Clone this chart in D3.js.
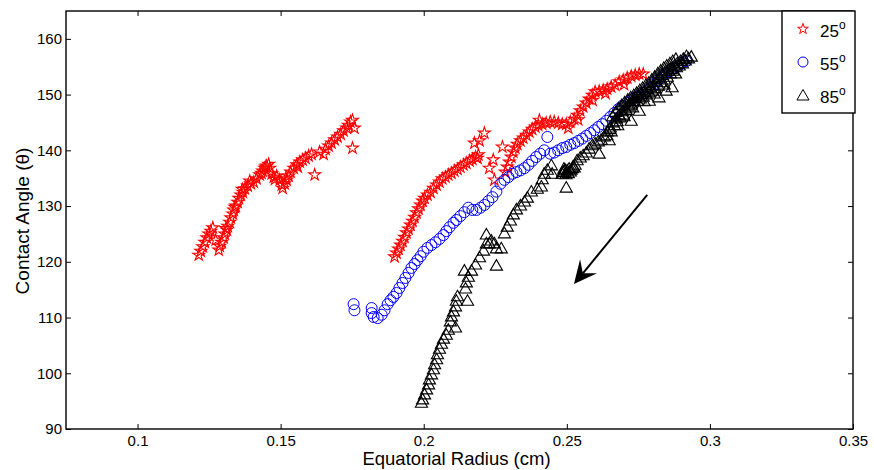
<!DOCTYPE html>
<html>
<head>
<meta charset="utf-8">
<script src="https://cdn.jsdelivr.net/npm/d3@7"></script>
<style>
  body { margin: 0; background: #fff; }
  svg { font-family: "Liberation Sans", Arial, Helvetica, sans-serif; }
  .axis text { font-size: 15px; fill: #000; }
  .axis line { stroke: #000; stroke-width: 1; }
</style>
</head>
<body>
<div id="chart"></div>
<script>
// contact angle vs equatorial radius
var deg25 = [
  [0.1214,121.2],[0.1221,121.9],[0.1228,122.7],[0.1235,123.5],[0.1242,124.3],[0.1249,125.0],[0.1256,125.5],[0.1263,126.1],[0.1273,123.9],
  [0.1284,122.1],[0.1287,122.8],[0.1294,123.5],[0.1301,124.3],[0.1305,125.0],[0.1312,125.7],[0.1315,126.4],[0.1322,127.1],[0.1326,127.9],
  [0.1333,128.6],[0.1336,129.3],[0.1343,130.0],[0.1350,130.7],[0.1354,131.4],[0.1361,132.0],[0.1368,132.5],[0.1375,133.1],[0.1385,133.6],
  [0.1396,134.0],[0.1406,134.3],[0.1416,134.9],[0.1427,135.6],[0.1437,136.3],[0.1444,136.8],[0.1451,137.2],[0.1458,137.5],[0.1462,136.8],
  [0.1469,135.8],[0.1476,135.2],[0.1486,135.4],[0.1497,134.7],[0.1504,133.8],[0.1507,133.2],[0.1514,134.0],[0.1521,134.7],[0.1528,135.4],
  [0.1535,136.1],[0.1546,136.8],[0.1556,137.4],[0.1567,137.9],[0.1577,138.3],[0.1587,138.6],[0.1598,139.0],[0.1608,139.3],[0.1619,135.6],
  [0.1636,139.7],[0.1650,139.3],[0.1657,140.2],[0.1668,140.8],[0.1678,141.3],[0.1689,141.9],[0.1699,142.4],[0.1710,142.9],[0.1720,143.5],
  [0.1731,144.0],[0.1737,144.5],[0.1744,145.1],[0.1751,145.4],[0.1758,144.0],[0.1751,140.4],
  [0.1309,126.0],[0.1340,129.8],[0.1366,133.0],[0.1392,134.5],[0.1433,135.9],[0.1448,137.0],[0.1480,134.8],[0.1518,135.0],[0.1560,137.0],
  [0.1898,120.9],[0.1905,121.6],[0.1912,122.3],[0.1919,123.0],[0.1926,123.7],[0.1933,124.4],[0.1940,125.2],[0.1947,125.9],[0.1954,126.6],
  [0.1961,127.3],[0.1968,128.0],[0.1975,128.8],[0.1982,129.5],[0.1989,130.2],[0.1996,130.9],[0.2003,131.4],[0.2013,132.0],[0.2024,132.5],
  [0.2034,133.2],[0.2045,133.8],[0.2055,134.3],[0.2065,134.9],[0.2076,135.2],[0.2086,135.6],[0.2097,135.9],[0.2107,136.3],[0.2118,136.6],
  [0.2128,137.0],[0.2139,137.4],[0.2149,137.7],[0.2160,138.1],[0.2170,138.4],[0.2181,138.8],[0.2191,139.2],
  [0.2177,141.3],[0.2195,141.7],[0.2212,143.1],[0.2188,138.6],[0.2229,136.8],[0.2243,138.3],[0.2247,134.7],[0.2275,140.6],
  [0.2285,136.1],[0.2292,137.0],[0.2299,137.9],[0.2306,138.8],[0.2313,139.7],[0.2320,140.4],[0.2327,141.1],[0.2338,141.7],[0.2348,142.2],
  [0.2359,142.7],[0.2369,143.3],[0.2379,143.8],[0.2390,144.2],[0.2400,144.5],[0.2404,145.4],[0.2414,144.7],[0.2428,144.9],[0.2442,145.1],
  [0.2456,145.1],[0.2470,144.9],[0.2484,144.7],[0.2498,144.7],[0.2512,145.1],[0.2526,145.6],[0.2537,146.3],[0.2547,147.1],[0.2557,147.8],
  [0.2568,148.5],[0.2578,149.2],[0.2589,149.9],[0.2599,150.5],[0.2613,150.6],[0.2627,150.8],[0.2641,151.0],[0.2655,151.4],[0.2669,151.7],
  [0.2683,152.3],[0.2697,152.6],[0.2711,153.0],[0.2725,153.3],[0.2739,153.5],[0.2753,153.7],[0.2767,153.7],
  [0.2505,144.0],[0.2540,145.5],[0.2590,149.0],[0.2635,150.2],[0.2700,151.8]
];

var deg55 = [
  [0.1755,112.4],[0.1758,111.3],[0.1818,111.7],[0.1818,110.8],[0.1825,110.1],[0.1839,109.9],[0.1853,110.5],[0.1863,111.3],[0.1874,112.4],
  [0.1884,113.1],[0.1894,113.7],[0.1905,114.4],[0.1915,115.3],[0.1926,116.2],[0.1936,117.1],[0.1947,118.0],[0.1957,118.9],[0.1968,119.6],
  [0.1978,120.3],[0.1989,121.0],[0.1999,121.8],[0.2013,122.5],[0.2027,123.0],[0.2041,123.5],[0.2055,124.1],[0.2069,124.8],[0.2079,125.5],
  [0.2090,126.2],[0.2104,127.0],[0.2114,127.5],[0.2128,128.2],[0.2142,128.9],[0.2156,129.7],[0.2170,129.3],[0.2184,129.3],[0.2198,129.7],
  [0.2212,130.2],[0.2226,130.9],[0.2240,131.6],[0.2254,132.6],[0.2268,134.0],[0.2282,134.7],[0.2296,135.2],[0.2310,135.8],[0.2324,136.1],
  [0.2338,136.4],[0.2352,136.8],[0.2366,137.4],[0.2379,138.1],[0.2393,138.8],[0.2407,139.4],[0.2421,140.0],[0.2432,142.4],[0.2442,139.4],
  [0.2456,139.6],[0.2470,140.0],[0.2484,140.4],[0.2498,140.6],[0.2512,141.0],[0.2526,141.3],[0.2540,141.7],[0.2554,142.1],[0.2568,142.6],
  [0.2582,143.1],[0.2596,143.6],[0.2610,144.2],[0.2624,144.7],[0.2638,145.3],[0.2652,146.0],[0.2666,146.7],[0.2680,147.4],[0.2694,148.0],
  [0.2708,148.5],[0.2722,149.0],[0.2735,149.4],[0.2749,149.7],[0.2763,150.3],[0.2777,150.6],[0.2791,151.2],[0.2805,151.9],[0.2819,152.6],
  [0.2833,153.3],[0.2847,153.9],[0.2861,154.2],[0.2875,154.8],[0.2889,155.1],[0.2903,155.7],[0.2917,156.0]
];

var deg85 = [
  [0.1992,94.8],[0.1996,95.4],[0.2003,96.3],[0.2010,97.2],[0.2017,98.1],[0.2020,99.0],[0.2027,99.9],[0.2034,100.8],[0.2038,101.7],
  [0.2045,102.6],[0.2048,103.5],[0.2055,104.5],[0.2062,105.4],[0.2069,106.3],[0.2079,107.0],[0.2086,107.9],[0.2093,109.4],[0.2097,110.3],
  [0.2104,111.2],[0.2111,112.1],[0.2114,113.1],[0.2118,113.9],[0.2111,108.3],[0.2153,113.1],
  [0.2146,115.3],[0.2149,116.4],[0.2156,117.4],[0.2142,118.5],[0.2167,118.5],[0.2181,119.6],[0.2195,120.9],[0.2209,122.1],[0.2219,123.4],
  [0.2219,125.0],[0.2229,123.4],[0.2236,123.9],[0.2247,123.4],[0.2254,122.5],[0.2271,122.5],[0.2254,119.4],[0.2282,125.2],[0.2292,126.4],
  [0.2303,127.5],[0.2313,128.6],[0.2324,129.5],[0.2338,130.2],[0.2352,130.9],[0.2362,131.6],[0.2376,132.7],[0.2397,133.2],[0.2411,133.6],
  [0.2414,134.9],[0.2421,135.9],[0.2432,136.6],[0.2446,137.4],[0.2449,135.9],
  [0.2484,135.9],[0.2491,136.3],[0.2494,136.6],[0.2501,136.5],[0.2508,136.8],[0.2515,136.6],[0.2522,137.2],[0.2529,137.5],[0.2498,133.4],
  [0.2487,136.2],[0.2497,135.8],[0.2505,136.0],[0.2512,136.3],[0.2519,136.9],[0.2526,137.0],[0.2490,136.8],
  [0.2536,138.3],[0.2547,138.8],[0.2557,139.2],[0.2568,139.7],[0.2578,140.4],[0.2589,141.0],[0.2599,141.3],[0.2610,141.7],[0.2620,142.0],
  [0.2631,142.6],[0.2641,143.5],[0.2652,144.2],[0.2662,145.1],[0.2673,145.8],[0.2683,146.5],[0.2694,147.1],[0.2704,147.6],[0.2715,148.1],
  [0.2725,148.5],[0.2736,148.9],[0.2746,149.0],[0.2757,149.4],[0.2767,149.7],[0.2778,150.1],[0.2788,150.5],[0.2799,150.8],[0.2809,151.2],
  [0.2820,151.7],[0.2830,152.3],[0.2841,152.8],[0.2851,153.3],[0.2862,153.9],[0.2872,154.4],[0.2883,155.0],[0.2893,155.3],[0.2904,155.7],
  [0.2914,156.2],[0.2925,156.6],[0.2935,156.9],
  [0.2613,139.5],[0.2648,141.9],[0.2725,145.4],[0.2753,147.2],[0.2788,149.0],[0.2822,149.6],[0.2847,150.8],[0.2868,151.4],
  [0.2655,143.5],[0.2666,144.6],[0.2676,145.3],[0.2687,146.0],[0.2697,146.5],[0.2708,147.3],[0.2718,148.3],[0.2729,148.9],[0.2739,149.5],
  [0.2750,149.8],[0.2760,150.2],[0.2771,150.6],[0.2781,151.0],[0.2792,151.4],[0.2802,151.8],[0.2813,152.4],[0.2823,153.0],[0.2834,153.6],
  [0.2844,154.0],[0.2855,154.4],[0.2865,154.7],[0.2876,155.3],[0.2886,155.7],[0.2897,156.1],[0.2907,156.5],[0.2918,157.0],
  [0.2660,146.2],[0.2671,147.0],[0.2681,147.6],[0.2692,148.2],[0.2702,148.7],[0.2713,149.2],[0.2723,149.6],[0.2734,150.0],[0.2744,150.4],
  [0.2755,150.9],[0.2765,151.3],[0.2776,151.8],[0.2786,152.2],[0.2797,152.8],[0.2807,153.3],[0.2818,153.9],[0.2828,154.4],[0.2839,154.9],
  [0.2849,155.3],[0.2860,155.7],[0.2870,156.1],[0.2881,156.5],
  [0.2640,142.8],[0.2650,143.9],[0.2678,144.6],[0.2700,146.2],[0.2730,147.8],[0.2770,148.9],[0.2805,150.3],[0.2840,151.9],[0.2880,153.9]
];

var legendLabels = ["25", "55", "85"];
var xTicks = [0.1, 0.15, 0.2, 0.25, 0.3, 0.35];
var xTickLabels = ["0.1", "0.15", "0.2", "0.25", "0.3", "0.35"];
var yTicks = [90, 100, 110, 120, 130, 140, 150, 160];
// direction arrow, in data units: [tail, tip]
var arrowPts = [[0.2781, 132.0], [0.2525, 116.0]];

var W = 874, H = 470;
var margin = {top: 11, right: 21, bottom: 41, left: 66};
var width = W - margin.left - margin.right,
    height = H - margin.top - margin.bottom;

var svg = d3.select("#chart").append("svg")
    .attr("width", W).attr("height", H);
var g = svg.append("g")
    .attr("transform", "translate(" + margin.left + "," + margin.top + ")");

var x = d3.scaleLinear().domain([0.075, 0.35]).range([0, width]);
var y = d3.scaleLinear().domain([90, 165]).range([height, 0]);

// axes, ticks pointing in like matlab
g.append("g").attr("class", "axis")
    .attr("transform", "translate(0," + height + ")")
    .call(d3.axisBottom(x).tickValues(xTicks)
        .tickFormat(function(d, i) { return xTickLabels[i]; })
        .tickSizeInner(-5).tickSizeOuter(0).tickPadding(6));
g.append("g").attr("class", "axis")
    .call(d3.axisTop(x).tickValues(xTicks).tickFormat("")
        .tickSizeInner(-5).tickSizeOuter(0));
g.append("g").attr("class", "axis")
    .call(d3.axisLeft(y).tickValues(yTicks)
        .tickSizeInner(-5).tickSizeOuter(0).tickPadding(4));
g.append("g").attr("class", "axis")
    .attr("transform", "translate(" + width + ",0)")
    .call(d3.axisRight(y).tickValues(yTicks).tickFormat("")
        .tickSizeInner(-5).tickSizeOuter(0));
g.selectAll(".axis .domain").remove();

g.append("rect")
    .attr("width", width).attr("height", height)
    .attr("fill", "none").attr("stroke", "#000").attr("stroke-width", 1.4);

var starPath = d3.symbol(d3.symbolStar, 44)();
var triPath = d3.symbol(d3.symbolTriangle, 64)();

g.append("g").selectAll("path").data(deg25).join("path")
    .attr("d", starPath)
    .attr("transform", function(d) { return "translate(" + x(d[0]) + "," + y(d[1]) + ")"; })
    .attr("fill", "none").attr("stroke", "#ff0000").attr("stroke-width", 1.1);

g.append("g").selectAll("circle").data(deg55).join("circle")
    .attr("cx", function(d) { return x(d[0]); })
    .attr("cy", function(d) { return y(d[1]); })
    .attr("r", 5.5)
    .attr("fill", "none").attr("stroke", "#0000ff").attr("stroke-width", 1);

g.append("g").selectAll("path").data(deg85).join("path")
    .attr("d", triPath)
    .attr("transform", function(d) { return "translate(" + x(d[0]) + "," + (y(d[1]) + 1.5) + ")"; })
    .attr("fill", "none").attr("stroke", "#000").attr("stroke-width", 1.1);

// arrow
var ax0 = x(arrowPts[0][0]), ay0 = y(arrowPts[0][1]),
    ax1 = x(arrowPts[1][0]), ay1 = y(arrowPts[1][1]);
var len = Math.sqrt((ax0 - ax1) * (ax0 - ax1) + (ay0 - ay1) * (ay0 - ay1));
var ux = (ax0 - ax1) / len, uy = (ay0 - ay1) / len;   // tip -> tail
var px = -uy, py = ux;
var hl = 23, hw = 11, notch = 14;
g.append("line")
    .attr("x1", ax0).attr("y1", ay0)
    .attr("x2", ax1 + ux * notch).attr("y2", ay1 + uy * notch)
    .attr("stroke", "#000").attr("stroke-width", 2);
g.append("path")
    .attr("d", "M" + ax1 + "," + ay1 +
        "L" + (ax1 + ux * hl + px * hw) + "," + (ay1 + uy * hl + py * hw) +
        "L" + (ax1 + ux * notch) + "," + (ay1 + uy * notch) +
        "L" + (ax1 + ux * hl - px * hw) + "," + (ay1 + uy * hl - py * hw) + "Z")
    .attr("fill", "#000");

// axis labels
svg.append("text")
    .attr("x", margin.left + width / 2 - 3).attr("y", 465)
    .attr("text-anchor", "middle").attr("font-size", 18.5)
    .text("Equatorial Radius (cm)");
svg.append("text")
    .attr("transform", "translate(29," + 221 + ") rotate(-90)")
    .attr("text-anchor", "middle").attr("font-size", 19)
    .text("Contact Angle (\u03b8)");

// legend
var leg = svg.append("g").attr("transform", "translate(782,11)");
leg.append("rect").attr("width", 73).attr("height", 102)
    .attr("fill", "#fff").attr("stroke", "#000").attr("stroke-width", 1.4);
var rows = leg.selectAll("g.row").data(legendLabels).join("g")
    .attr("class", "row")
    .attr("transform", function(d, i) { return "translate(21," + (18 + i * 33) + ")"; });
rows.filter(function(d, i) { return i === 0; }).append("path")
    .attr("d", d3.symbol(d3.symbolStar, 36)()).attr("fill", "none").attr("stroke", "#ff0000").attr("stroke-width", 1);
rows.filter(function(d, i) { return i === 1; }).append("circle")
    .attr("r", 5).attr("fill", "none").attr("stroke", "#0000ff").attr("stroke-width", 1);
rows.filter(function(d, i) { return i === 2; }).append("path")
    .attr("d", triPath).attr("transform", "translate(0,1.5)")
    .attr("fill", "none").attr("stroke", "#000").attr("stroke-width", 1);
var lt = rows.append("text").attr("x", 17).attr("y", 8).attr("font-size", 17);
lt.append("tspan").text(function(d) { return d; });
lt.append("tspan").attr("dy", -8).attr("font-size", 12).text("o");
</script>
</body>
</html>
